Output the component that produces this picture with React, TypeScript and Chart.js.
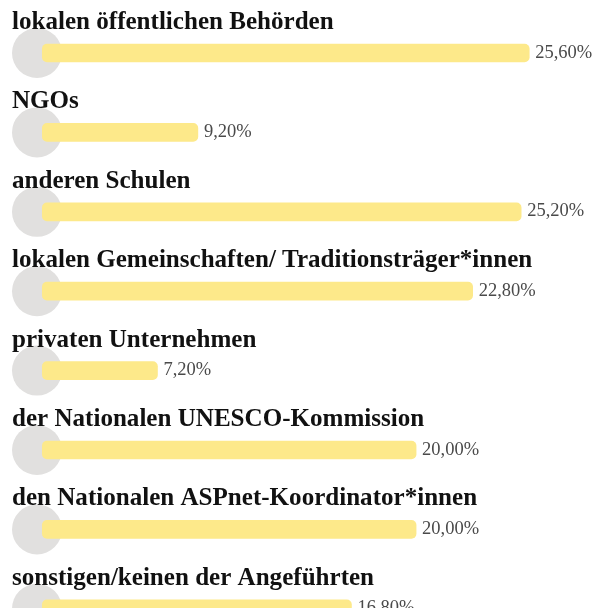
import React, { useEffect, useRef } from "react";
import { Chart, registerables } from "chart.js";

Chart.register(...registerables);

const categories = [
  "lokalen öffentlichen Behörden",
  "NGOs",
  "anderen Schulen",
  "lokalen Gemeinschaften/ Traditionsträger*innen",
  "privaten Unternehmen",
  "der Nationalen UNESCO-Kommission",
  "den Nationalen ASPnet-Koordinator*innen",
  "sonstigen/keinen der Angeführten",
];

const values = [25.6, 9.2, 25.2, 22.8, 7.2, 20.0, 20.0, 16.8];

const valueLabels = values.map((v) => v.toFixed(2).replace(".", ",") + "%");

const BAR_START = 1.5;
const BAR_COLOR = "#fde98a";
const CIRCLE_COLOR = "#e1e0df";

const decorPlugin = {
  id: "decor",
  beforeDatasetsDraw(chart: any) {
    const ctx = chart.ctx;
    const meta = chart.getDatasetMeta(0);
    const left = chart.chartArea.left;
    ctx.save();
    ctx.fillStyle = CIRCLE_COLOR;
    meta.data.forEach((bar: any) => {
      ctx.beginPath();
      ctx.arc(left + 25, bar.y, 25, 0, Math.PI * 2);
      ctx.fill();
    });
    ctx.restore();
  },
  afterDatasetsDraw(chart: any) {
    const ctx = chart.ctx;
    const meta = chart.getDatasetMeta(0);
    const left = chart.chartArea.left;
    ctx.save();
    ctx.font = "bold 22px 'Liberation Serif', serif";
    const w = ctx.measureText(categories[0]).width;
    const size = ((22 * 330) / w) * 0.975;
    meta.data.forEach((bar: any, i: number) => {
      ctx.font = `bold ${size.toFixed(2)}px 'Liberation Serif', serif`;
      ctx.fillStyle = "#111111";
      ctx.textBaseline = "alphabetic";
      ctx.textAlign = "left";
      ctx.fillText(categories[i], left, bar.y - 24);
      ctx.font = "18.5px 'Liberation Serif', serif";
      ctx.fillStyle = "#4a4a4a";
      ctx.fillText(valueLabels[i], bar.x + 6, bar.y + 4.5);
    });
    ctx.restore();
  },
};

export default function App() {
  const ref = useRef<HTMLCanvasElement>(null);

  useEffect(() => {
    document.body.style.overflow = "hidden";
    if (!ref.current) return;
    const chart = new Chart(ref.current, {
      type: "bar",
      data: {
        labels: categories,
        datasets: [
          {
            data: values.map((v) => [BAR_START, v]) as any,
            backgroundColor: BAR_COLOR,
            borderRadius: 5,
            borderSkipped: false,
            barThickness: 18,
          },
        ],
      },
      options: {
        indexAxis: "y",
        responsive: false,
        animation: false,
        layout: { padding: { top: 13.3, bottom: 11.5, left: 12, right: 0 } },
        scales: {
          x: { type: "linear", min: 0, max: 29.3, display: false },
          y: { display: false },
        },
        plugins: {
          legend: { display: false },
          tooltip: { enabled: false },
        },
      },
      plugins: [decorPlugin],
    });
    return () => chart.destroy();
  }, []);

  return (
    <div
      style={{
        margin: -8,
        width: 604,
        height: 616,
        overflow: "hidden",
        background: "#ffffff",
      }}
    >
      <canvas
        ref={ref}
        width={604}
        height={660}
        style={{ display: "block", width: 604, height: 660 }}
      />
    </div>
  );
}
